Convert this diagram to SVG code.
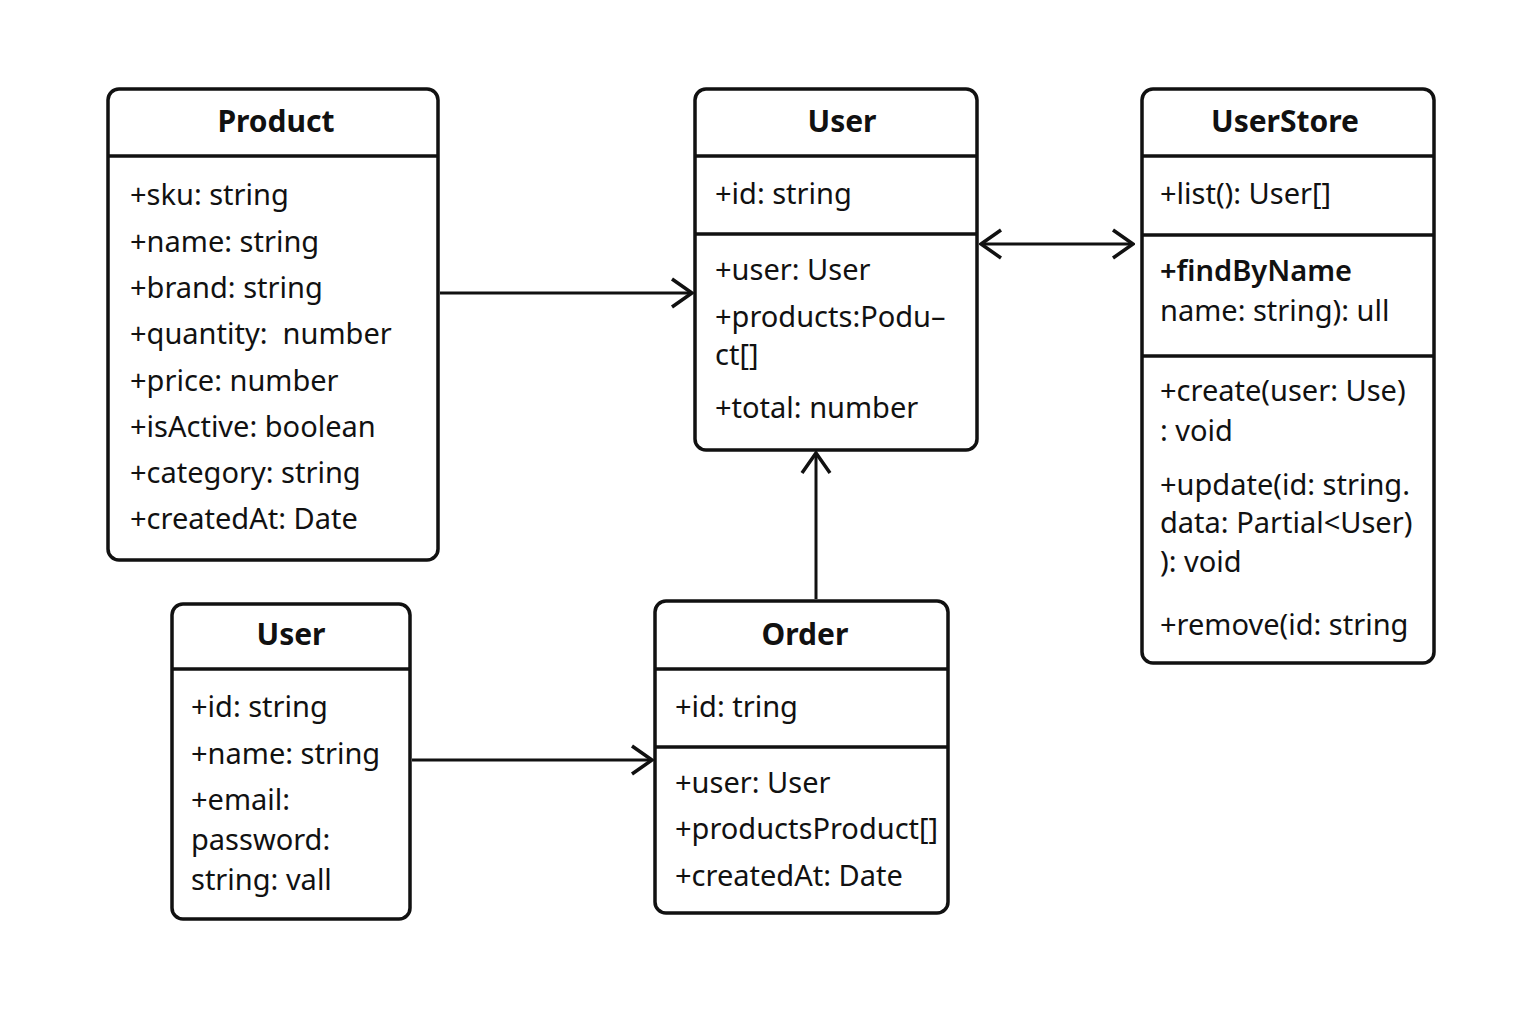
<svg xmlns="http://www.w3.org/2000/svg" width="1536" height="1024" viewBox="0 0 1536 1024">
<style>
.box{fill:#fff;stroke:#111;stroke-width:3.5}
.sep{stroke:#111;stroke-width:3.5}
.t{font-family:"Noto Sans","Open Sans","Liberation Sans",sans-serif;font-size:29px;fill:#111;white-space:pre}
.h{font-family:"Noto Sans","Open Sans","Liberation Sans",sans-serif;font-size:30px;font-weight:bold;fill:#111;text-anchor:middle}
.sb{font-weight:600}
.c{stroke:#111;stroke-width:3;fill:none}
</style>
<defs>
<marker id="arr" viewBox="0 0 24 32" refX="22" refY="16" markerWidth="24" markerHeight="32" markerUnits="userSpaceOnUse" orient="auto-start-reverse">
<path d="M2,2 L22,16 L2,30" fill="none" stroke="#111" stroke-width="3.5"/>
</marker>
</defs>
<rect width="1536" height="1024" fill="#fff"/>

<g id="product">
<rect class="box" x="108" y="89" width="330" height="471" rx="11"/>
<line class="sep" x1="108" y1="156" x2="438" y2="156"/>
<text class="h" x="276" y="132">Product</text>
<text class="t" x="130" y="205">+sku: string</text>
<text class="t" x="130" y="252">+name: string</text>
<text class="t" x="130" y="298">+brand: string</text>
<text class="t" x="130" y="344">+quantity:  number</text>
<text class="t" x="130" y="391">+price: number</text>
<text class="t" x="130" y="437">+isActive: boolean</text>
<text class="t" x="130" y="483">+category: string</text>
<text class="t" x="130" y="529">+createdAt: Date</text>
</g>

<g id="user-top">
<rect class="box" x="695" y="89" width="282" height="361" rx="11"/>
<line class="sep" x1="695" y1="156" x2="977" y2="156"/>
<line class="sep" x1="695" y1="234" x2="977" y2="234"/>
<text class="h" x="842" y="132">User</text>
<text class="t" x="715" y="204">+id: string</text>
<text class="t" x="715" y="280">+user: User</text>
<text class="t" x="715" y="327">+products:Podu–</text>
<text class="t" x="715" y="365">ct[]</text>
<text class="t" x="715" y="418">+total: number</text>
</g>

<g id="userstore">
<rect class="box" x="1142" y="89" width="292" height="574" rx="11"/>
<line class="sep" x1="1142" y1="156" x2="1434" y2="156"/>
<line class="sep" x1="1142" y1="235" x2="1434" y2="235"/>
<line class="sep" x1="1142" y1="356" x2="1434" y2="356"/>
<text class="h" x="1285" y="132">UserStore</text>
<text class="t" x="1160" y="204">+list(): User[]</text>
<text class="t sb" x="1160" y="281">+findByName</text>
<text class="t" x="1160" y="321">name: string): ull</text>
<text class="t" x="1160" y="401">+create(user: Use)</text>
<text class="t" x="1160" y="441">: void</text>
<text class="t" x="1160" y="495">+update(id: string.</text>
<text class="t" x="1160" y="533">data: Partial&lt;User)</text>
<text class="t" x="1160" y="572">): void</text>
<text class="t" x="1160" y="635">+remove(id: string</text>
</g>

<g id="user-bottom">
<rect class="box" x="172" y="604" width="238" height="315" rx="11"/>
<line class="sep" x1="172" y1="669" x2="410" y2="669"/>
<text class="h" x="291" y="645">User</text>
<text class="t" x="191" y="717">+id: string</text>
<text class="t" x="191" y="764">+name: string</text>
<text class="t" x="191" y="810">+email:</text>
<text class="t" x="191" y="850">password:</text>
<text class="t" x="191" y="890">string: vall</text>
</g>

<g id="order">
<rect class="box" x="655" y="601" width="293" height="312" rx="11"/>
<line class="sep" x1="655" y1="669" x2="948" y2="669"/>
<line class="sep" x1="655" y1="747" x2="948" y2="747"/>
<text class="h" x="805" y="645">Order</text>
<text class="t" x="675" y="717">+id: tring</text>
<text class="t" x="675" y="793">+user: User</text>
<text class="t" x="675" y="839">+productsProduct[]</text>
<text class="t" x="675" y="886">+createdAt: Date</text>
</g>

<g id="connectors">
<line class="c" x1="440" y1="293" x2="692" y2="293" marker-end="url(#arr)"/>
<line class="c" x1="981" y1="244" x2="1133" y2="244" marker-start="url(#arr)" marker-end="url(#arr)"/>
<line class="c" x1="816" y1="599" x2="816" y2="453" marker-end="url(#arr)"/>
<line class="c" x1="412" y1="760" x2="652" y2="760" marker-end="url(#arr)"/>
</g>
</svg>
